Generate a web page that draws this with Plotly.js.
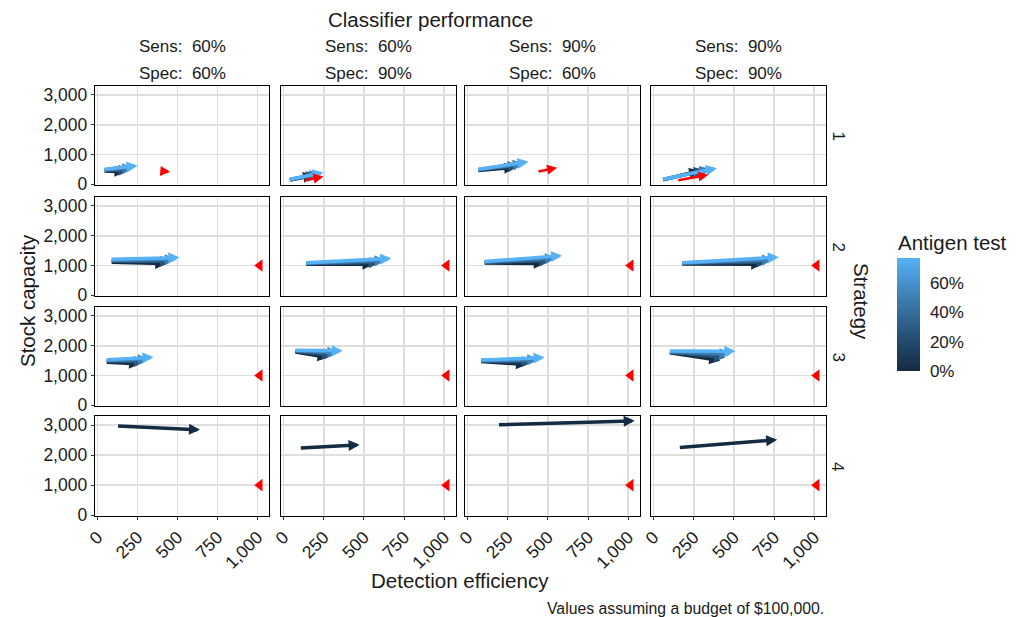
<!DOCTYPE html>
<html>
<head>
<meta charset="utf-8">
<script src="https://cdn.plot.ly/plotly-3.0.1.min.js"></script>
<style>html,body{margin:0;padding:0;background:#fff;}#chart{width:1018px;height:617px;}</style>
</head>
<body>
<div id="chart"></div>
<script>
// ---------- DATA ----------
const sensLabels = ['Sens:\u00A0 60%', 'Sens:\u00A0 60%', 'Sens:\u00A0 90%', 'Sens:\u00A0 90%'];
const specLabels = ['Spec:\u00A0 60%', 'Spec:\u00A0 90%', 'Spec:\u00A0 60%', 'Spec:\u00A0 90%'];
const strategyLabels = ['1', '2', '3', '4'];
const xTickVals = [0, 250, 500, 750, 1000];
const xTickText = ['0', '250', '500', '750', '1,000'];
const yTickVals = [0, 1000, 2000, 3000];
const yTickText = ['0', '1,000', '2,000', '3,000'];
const antigenTickVals = [0, 0.2, 0.4, 0.6];
const antigenTickText = ['0%', '20%', '40%', '60%'];
const antigenMax = 0.77;

// arrows (one entry per arrow): strategy row index, classifier column index, antigen share, start, end
const arrowStrategy = [0,0,0,0, 0,0,0,0, 0,0,0,0, 0,0,0,0,
                       1,1,1,1, 1,1,1,1, 1,1,1,1, 1,1,1,1,
                       2,2,2,2, 2,2,2,2, 2,2,2,2, 2,2,2,2,
                       3, 3, 3, 3];
const arrowClassifier = [0,0,0,0, 1,1,1,1, 2,2,2,2, 3,3,3,3,
                         0,0,0,0, 1,1,1,1, 2,2,2,2, 3,3,3,3,
                         0,0,0,0, 1,1,1,1, 2,2,2,2, 3,3,3,3,
                         0, 1, 2, 3];
const arrowAntigen = [0,0.25,0.5,0.77, 0,0.25,0.5,0.77, 0,0.25,0.5,0.77, 0,0.25,0.5,0.77,
                      0,0.25,0.5,0.77, 0,0.25,0.5,0.77, 0,0.25,0.5,0.77, 0,0.25,0.5,0.77,
                      0,0.25,0.5,0.77, 0,0.25,0.5,0.77, 0,0.25,0.5,0.77, 0,0.25,0.5,0.77,
                      0, 0, 0, 0];
const arrowX0 = [35,35,35,35, 30,30,30,30, 57,57,57,57, 50,50,50,50,
                 79,79,79,79, 132,132,132,132, 97,97,97,97, 170,170,170,170,
                 48,48,48,48, 65,65,65,65, 76,76,76,76, 92,92,92,92,
                 119, 98, 186, 154];
const arrowY0 = [450,465,480,500, 130,140,150,160, 460,470,485,500, 140,145,150,160,
                 1110,1140,1175,1210, 1040,1055,1070,1085, 1080,1100,1115,1130, 1050,1065,1080,1090,
                 1450,1475,1500,1530, 1800,1815,1830,1850, 1470,1485,1500,1520, 1770,1785,1800,1820,
                 2973, 2232, 3007, 2252];
const arrowX1 = [175,200,225,250, 190,210,230,248, 296,320,350,379, 290,320,355,394,
                 430,460,490,512, 560,600,635,670, 480,515,550,588, 676,710,745,779,
                 266,295,322,350, 280,310,340,368, 370,405,440,479, 415,445,478,509,
                 641, 473, 1040, 769];
const arrowY1 = [420,480,550,620, 300,330,360,392, 571,630,690,757, 458,480,510,538,
                 1060,1130,1200,1265, 1040,1100,1170,1236, 1070,1160,1250,1330, 1040,1120,1200,1280,
                 1392,1470,1540,1611, 1600,1680,1760,1830, 1370,1450,1530,1600, 1502,1600,1710,1811,
                 2840, 2342, 3140, 2508];

// red reference arrows (strategy 1)
const refArrowStrategy = [0, 0, 0, 0];
const refArrowClassifier = [0, 1, 2, 3];
const refArrowX0 = [400, 123, 432, 144];
const refArrowY0 = [445, 126, 415, 126];
const refArrowX1 = [455, 248, 557, 341];
const refArrowY1 = [418, 259, 558, 316];

// red reference points (strategies 2-4)
const refPointStrategy = [1,1,1,1, 2,2,2,2, 3,3,3,3];
const refPointClassifier = [0,1,2,3, 0,1,2,3, 0,1,2,3];
const refPointX = [1015,1015,1015,1015, 1015,1015,1015,1015, 1015,1015,1015,1015];
const refPointY = [1000,1000,1000,1000, 1000,1000,1000,1000, 1000,1000,1000,1000];

// ---------- STYLE ----------
const FONT = 'Liberation Sans, Arial, Helvetica, sans-serif';
const colorStops = [[0, '#132B43'], [0.25, '#23496C'], [0.5, '#336A98'], [0.75, '#448DC7'], [1, '#56B1F7']];
function hexToRgb(h) { return [parseInt(h.slice(1,3),16), parseInt(h.slice(3,5),16), parseInt(h.slice(5,7),16)]; }
function scaleColor(v) {
  const t = Math.max(0, Math.min(1, v / antigenMax));
  for (let i = 1; i < colorStops.length; i++) {
    if (t <= colorStops[i][0]) {
      const a = colorStops[i-1], b = colorStops[i];
      const f = (t - a[0]) / (b[0] - a[0]);
      const ca = hexToRgb(a[1]), cb = hexToRgb(b[1]);
      const c = ca.map((x, j) => Math.round(x + (cb[j] - x) * f));
      return 'rgb(' + c.join(',') + ')';
    }
  }
  return colorStops[colorStops.length-1][1];
}

const L = 95, T = 86, R = 192, B = 101, W = 1018, H = 617;
const PW = W - L - R, PH = H - T - B;
const colPx = [[95, 269], [281, 456], [465, 640], [651, 826]];
const rowPx = [[86, 185], [197, 296], [307, 406], [416, 516]];
const px2x = p => (p - L) / PW;
const px2y = p => (H - B - p) / PH;

function axName(r, c) { const k = r * 4 + c + 1; return k === 1 ? '' : String(k); }

const annotations = [];
const SHAFT = 3.5, HEAD = 11;
function addArrow(n, x0, y0, x1, y1, color, width, head) {
  annotations.push({
    xref: 'x' + n, yref: 'y' + n, axref: 'x' + n, ayref: 'y' + n,
    x: x1, y: y1, ax: x0, ay: y0, text: '', showarrow: true,
    arrowhead: 2, arrowsize: head / (5 * width), arrowwidth: width,
    arrowcolor: color, standoff: 0, startstandoff: 0
  });
}
for (let i = 0; i < arrowX0.length; i++) {
  const n = axName(arrowStrategy[i], arrowClassifier[i]);
  addArrow(n, arrowX0[i], arrowY0[i], arrowX1[i], arrowY1[i], scaleColor(arrowAntigen[i]), SHAFT, HEAD);
}
for (let i = 0; i < refArrowX0.length; i++) {
  const n = axName(refArrowStrategy[i], refArrowClassifier[i]);
  addArrow(n, refArrowX0[i], refArrowY0[i], refArrowX1[i], refArrowY1[i], '#FF0000', 2.5, 10);
}

const traces = [];
// colour scale carrier (antigen values of the arrows, drawn with invisible markers)
traces.push({
  type: 'scatter', mode: 'markers',
  x: arrowX1, y: arrowY1, xaxis: 'x', yaxis: 'y',
  marker: { size: 0.1, opacity: 0, color: arrowAntigen, colorscale: colorStops, cmin: 0, cmax: antigenMax,
            showscale: true,
            colorbar: {
              x: px2x(897), xanchor: 'left', xpad: 0, ypad: 0,
              y: px2y(314.5), yanchor: 'middle',
              thickness: 23, thicknessmode: 'pixels', len: 113, lenmode: 'pixels',
              outlinewidth: 0,
              tickvals: antigenTickVals, ticktext: antigenTickText,
              ticks: 'outside', ticklen: 7, tickcolor: 'rgba(0,0,0,0)', tickwidth: 1,
              tickfont: { family: FONT, size: 17, color: '#1a1a1a' },
              title: { text: '' }
            } },
  hoverinfo: 'skip', showlegend: false
});
for (let i = 0; i < refPointX.length; i++) {
  const n = axName(refPointStrategy[i], refPointClassifier[i]);
  traces.push({
    type: 'scatter', mode: 'markers',
    x: [refPointX[i]], y: [refPointY[i]],
    xaxis: 'x' + n, yaxis: 'y' + n,
    marker: { symbol: 'triangle-left', size: 11, color: '#FF0000', line: { width: 0 } },
    hoverinfo: 'skip', showlegend: false
  });
}

const layout = {
  width: W, height: H,
  margin: { l: L, r: R, t: T, b: B, pad: 0 },
  paper_bgcolor: '#ffffff', plot_bgcolor: '#ffffff',
  font: { family: FONT, size: 16, color: '#1a1a1a' },
  showlegend: false,
  annotations: annotations
};

for (let r = 0; r < 4; r++) {
  for (let c = 0; c < 4; c++) {
    const n = axName(r, c);
    const bottom = r === 3, left = c === 0;
    layout['xaxis' + n] = {
      domain: [px2x(colPx[c][0]), px2x(colPx[c][1])],
      anchor: 'y' + n, range: [-16, 1073], fixedrange: true,
      tickvals: xTickVals, ticktext: xTickText,
      showticklabels: bottom, tickangle: -45,
      ticks: bottom ? 'outside' : '', ticklen: 3, tickcolor: '#333333',
      tickfont: { family: FONT, size: 17.5, color: '#1a1a1a' },
      showgrid: true, gridcolor: '#DEDEDE', gridwidth: 1.6, zeroline: false,
      showline: true, mirror: true, linecolor: '#000000', linewidth: 1.3
    };
    layout['yaxis' + n] = {
      domain: [px2y(rowPx[r][1]), px2y(rowPx[r][0])],
      anchor: 'x' + n, range: [-25, 3300], fixedrange: true,
      tickvals: yTickVals, ticktext: yTickText,
      showticklabels: left,
      ticks: left ? 'outside' : '', ticklen: 3, tickcolor: '#333333',
      tickfont: { family: FONT, size: 17.5, color: '#1a1a1a' },
      showgrid: true, gridcolor: '#DEDEDE', gridwidth: 1.6, zeroline: false,
      showline: true, mirror: true, linecolor: '#000000', linewidth: 1.3
    };
  }
}

function addText(text, xp, yp, size, opts) {
  annotations.push(Object.assign({
    text: text, xref: 'paper', yref: 'paper', x: px2x(xp), y: px2y(yp),
    xanchor: 'center', yanchor: 'middle', showarrow: false,
    font: { family: FONT, size: size, color: '#1a1a1a' }
  }, opts || {}));
}
addText('Classifier performance', 430, 20, 20.5);
for (let c = 0; c < 4; c++) {
  const cx = (colPx[c][0] + colPx[c][1]) / 2;
  addText(sensLabels[c], cx, 46, 17);
  addText(specLabels[c], cx, 73, 17);
}
for (let r = 0; r < 4; r++) {
  const cy = (rowPx[r][0] + rowPx[r][1]) / 2;
  addText(strategyLabels[r], 838, cy, 17, { textangle: 90 });
}
addText('Strategy', 862, 301, 20.5, { textangle: 90 });
addText('Stock capacity', 27, 301, 20.5, { textangle: -90 });
addText('Detection efficiency', 460, 580, 20.5);
addText('Values assuming a budget of $100,000.', 826, 608, 15.8, { xanchor: 'right' });
addText('Antigen test', 896, 242, 20.5, { xanchor: 'left' });

Plotly.newPlot('chart', traces, layout, { staticPlot: true, displayModeBar: false });
</script>
</body>
</html>
